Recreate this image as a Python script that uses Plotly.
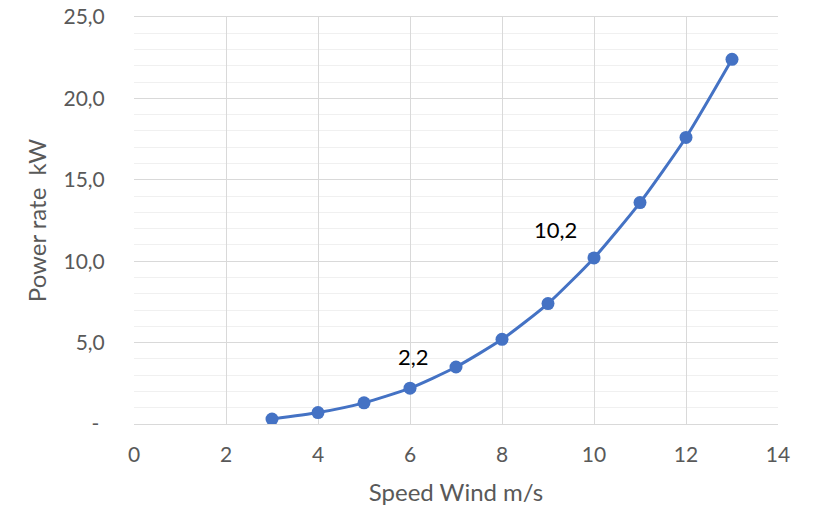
import plotly.graph_objects as go

wind_speed = [3, 4, 5, 6, 7, 8, 9, 10, 11, 12, 13]
power_kw = [0.3, 0.7, 1.3, 2.2, 3.5, 5.2, 7.4, 10.2, 13.6, 17.6, 22.4]
x_ticks = [0, 2, 4, 6, 8, 10, 12, 14]
y_ticks = [0, 5, 10, 15, 20, 25]
y_tick_text = ["-\u00a0", "5,0", "10,0", "15,0", "20,0", "25,0"]
labelled = {6: "2,2", 10: "10,2"}
label_shift = {6: (3, 32), 10: (-39, 28)}

color = "#4472C4"
font = "Lato, 'Open Sans', sans-serif"

fig = go.Figure()
fig.add_trace(go.Scatter(
    x=wind_speed, y=power_kw, mode="lines+markers",
    line=dict(color=color, width=3, shape="spline", smoothing=0.6),
    marker=dict(color=color, size=13),
    showlegend=False, hoverinfo="x+y",
))

annotations = []
for xv, yv in zip(wind_speed, power_kw):
    if xv in labelled:
        dx, dy = label_shift[xv]
        annotations.append(dict(
            x=xv, y=yv, text=labelled[xv], showarrow=False,
            xshift=dx, yshift=dy, font=dict(size=22, color="#000000", family=font),
        ))

fig.update_layout(
    width=815, height=509,
    margin=dict(l=126, r=45, t=9, b=93),
    paper_bgcolor="white", plot_bgcolor="white",
    font=dict(family=font, color="#595959", size=20),
    annotations=annotations,
    xaxis=dict(
        range=[0, 14], tickvals=x_ticks, ticktext=[str(v) for v in x_ticks],
        showgrid=True, gridcolor="#d9d9d9", gridwidth=1,
        zeroline=False, showline=True, mirror=True, linecolor="#d9d9d9", linewidth=1,
        ticks="outside", ticklen=12, tickcolor="rgba(0,0,0,0)",
        tickfont=dict(size=21, color="#595959"),
        automargin=False, ticklabeloverflow="allow",
        title=dict(text="Speed Wind m/s", font=dict(size=24, color="#595959"), standoff=18),
    ),
    yaxis=dict(
        range=[0, 25], tickvals=y_ticks, ticktext=y_tick_text,
        showgrid=True, gridcolor="#d9d9d9", gridwidth=1,
        minor=dict(dtick=1, showgrid=True, gridcolor="#f0f0f0", gridwidth=1, ticks=""),
        zeroline=False, showline=False,
        ticks="outside", ticklen=24, tickcolor="rgba(0,0,0,0)",
        tickfont=dict(size=21, color="#595959"),
        automargin=False, ticklabeloverflow="allow",
        title=dict(text="Power rate  kW", font=dict(size=24, color="#595959"), standoff=10),
    ),
)
fig.write_html("out.html")
